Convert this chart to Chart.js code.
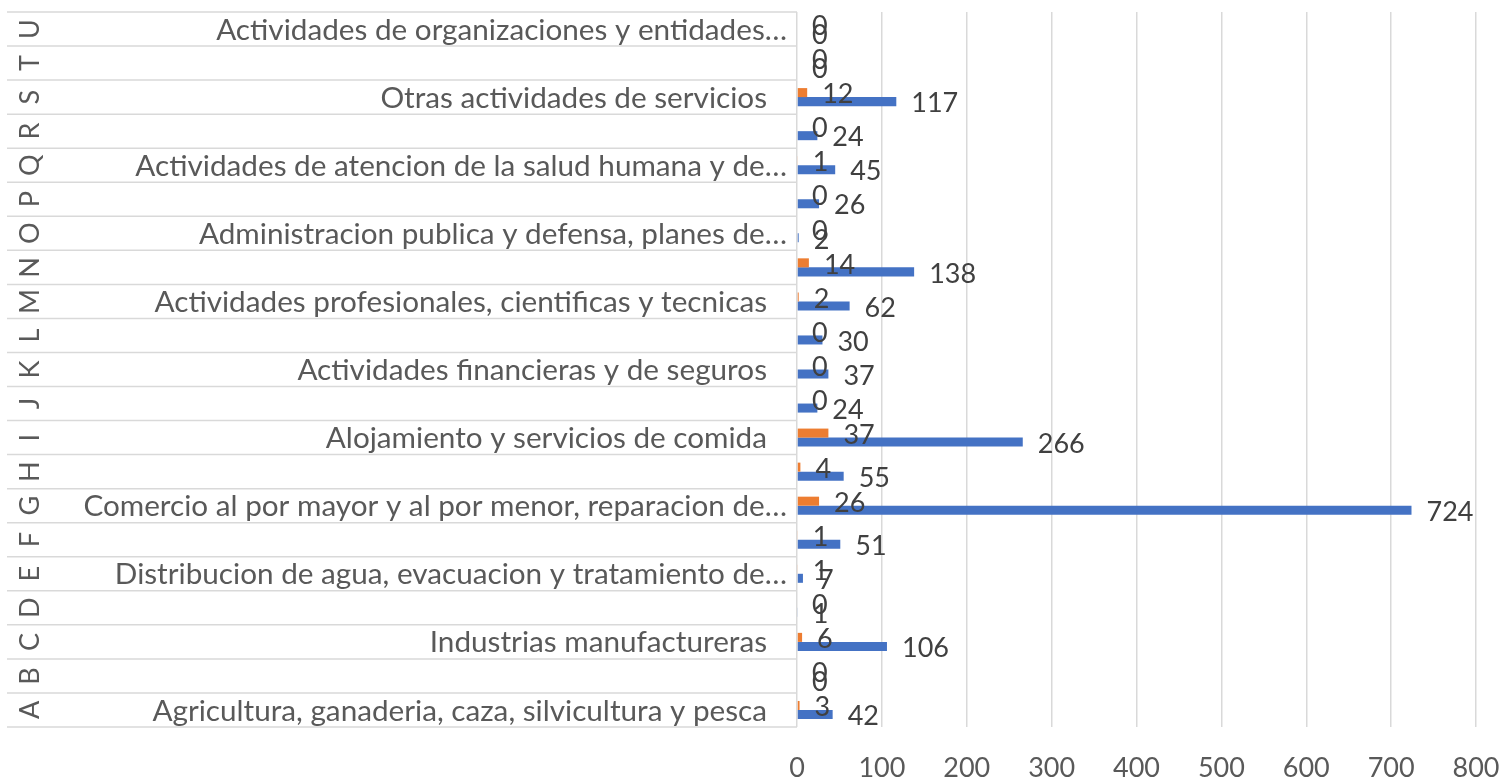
<!DOCTYPE html>
<html>
<head>
<meta charset="utf-8">
<script src="https://cdn.jsdelivr.net/npm/chart.js@4.4.1/dist/chart.umd.min.js"></script>
<style>
    html, body { margin: 0; padding: 0; background: #ffffff; }
    #wrap { width: 1503px; height: 780px; position: relative; }
</style>
</head>
<body>
<div id="wrap"><canvas id="sectorChart"></canvas></div>
<script>
// Section letters, bottom (A) to top (U)
const letters = ['A', 'B', 'C', 'D', 'E', 'F', 'G', 'H', 'I', 'J', 'K', 'L', 'M', 'N', 'O', 'P', 'Q', 'R', 'S', 'T', 'U'];

// Section names (only every other one is shown, like the original)
const sectors = [
    'Agricultura, ganaderia, caza, silvicultura y pesca',
    'Explotacion de minas y canteras',
    'Industrias manufactureras',
    'Suministro de electricidad, gas, vapor y aire acondicionado',
    'Distribucion de agua, evacuacion y tratamiento de…',
    'Construccion',
    'Comercio al por mayor y al por menor, reparacion de…',
    'Transporte y almacenamiento',
    'Alojamiento y servicios de comida',
    'Informacion y comunicaciones',
    'Actividades financieras y de seguros',
    'Actividades inmobiliarias',
    'Actividades profesionales, cientificas y tecnicas',
    'Actividades de servicios administrativos y de apoyo',
    'Administracion publica y defensa, planes de…',
    'Enseñanza',
    'Actividades de atencion de la salud humana y de…',
    'Actividades artisticas, de entretenimiento y recreativas',
    'Otras actividades de servicios',
    'Actividades de los hogares como empleadores',
    'Actividades de organizaciones y entidades…'
];

// Series values, same order as letters
const serie1 = [42, 0, 106, 1, 7, 51, 724, 55, 266, 24, 37, 30, 62, 138, 2, 26, 45, 24, 117, 0, 0];
const serie2 = [3, 0, 6, 0, 1, 1, 26, 4, 37, 0, 0, 0, 2, 14, 0, 0, 1, 0, 12, 0, 0];

const xTicksMax = 800;
const xTicksStep = 100;

const FONT = 'Lato, "Open Sans", sans-serif';
const GRID = '#d9d9d9';

// draws the two-level category axis and the value labels
const axisAndLabels = {
    id: 'axisAndLabels',
    afterDatasetsDraw(chart) {
        const ctx = chart.ctx;
        const area = chart.chartArea;
        const y = chart.scales.y;
        const p0 = y.getPixelForValue(0);
        const step = y.getPixelForValue(1) - p0;

        ctx.save();

        // row separators in the label area
        ctx.strokeStyle = GRID;
        ctx.lineWidth = 1.5;
        for (let k = 0; k <= letters.length; k++) {
            const yb = p0 - step / 2 + k * step;
            ctx.beginPath();
            ctx.moveTo(7, yb);
            ctx.lineTo(area.left, yb);
            ctx.stroke();
        }

        ctx.fillStyle = '#595959';
        ctx.textBaseline = 'middle';

        // section letters, rotated
        ctx.font = '27px ' + FONT;
        letters.forEach((letter, i) => {
            const yc = y.getPixelForValue(i);
            ctx.save();
            ctx.translate(30, yc);
            ctx.rotate(-Math.PI / 2);
            ctx.textAlign = 'center';
            ctx.fillText(letter, 0, 0);
            ctx.restore();
        });

        // section names, every second one
        ctx.font = '29.7px ' + FONT;
        ctx.textAlign = 'right';
        sectors.forEach((name, i) => {
            if (i % 2 !== 0) return;
            const yc = y.getPixelForValue(i);
            const xr = name.endsWith('…') ? area.left - 10 : area.left - 30;
            ctx.fillText(name, xr, yc + 1);
        });

        // value labels
        ctx.font = '27px ' + FONT;
        ctx.fillStyle = '#404040';
        ctx.textAlign = 'left';
        chart.data.datasets.forEach((ds, di) => {
            const meta = chart.getDatasetMeta(di);
            meta.data.forEach((bar, i) => {
                ctx.fillText(String(ds.data[i]), bar.x + 15, bar.y + 2);
            });
        });

        ctx.restore();
    }
};

const ctx = document.getElementById('sectorChart').getContext('2d');

new Chart(ctx, {
    type: 'bar',
    data: {
        labels: letters,
        datasets: [
            {
                label: 'Serie 2',
                data: serie2,
                backgroundColor: '#ed7d31',
                categoryPercentage: 0.53,
                barPercentage: 1.0
            },
            {
                label: 'Serie 1',
                data: serie1,
                backgroundColor: '#4472c4',
                categoryPercentage: 0.53,
                barPercentage: 1.0
            }
        ]
    },
    options: {
        indexAxis: 'y',
        responsive: true,
        maintainAspectRatio: false,
        animation: false,
        layout: {
            padding: { left: 797, top: 12, right: 27, bottom: 0 }
        },
        plugins: {
            legend: { display: false },
            tooltip: { enabled: false }
        },
        scales: {
            x: {
                min: 0,
                max: xTicksMax,
                grid: { color: GRID, lineWidth: 1.5, drawTicks: false },
                border: { display: false },
                ticks: {
                    stepSize: xTicksStep,
                    padding: 27.5,
                    minRotation: 0,
                    maxRotation: 0,
                    color: '#595959',
                    font: { family: FONT, size: 27, lineHeight: 1 }
                },
                afterFit(scale) {
                    // keep the axis band tight like the original
                    scale.height = 53;
                    scale.paddingRight = 0;
                }
            },
            y: {
                display: false,
                reverse: true
            }
        }
    },
    plugins: [axisAndLabels]
});
</script>
</body>
</html>
